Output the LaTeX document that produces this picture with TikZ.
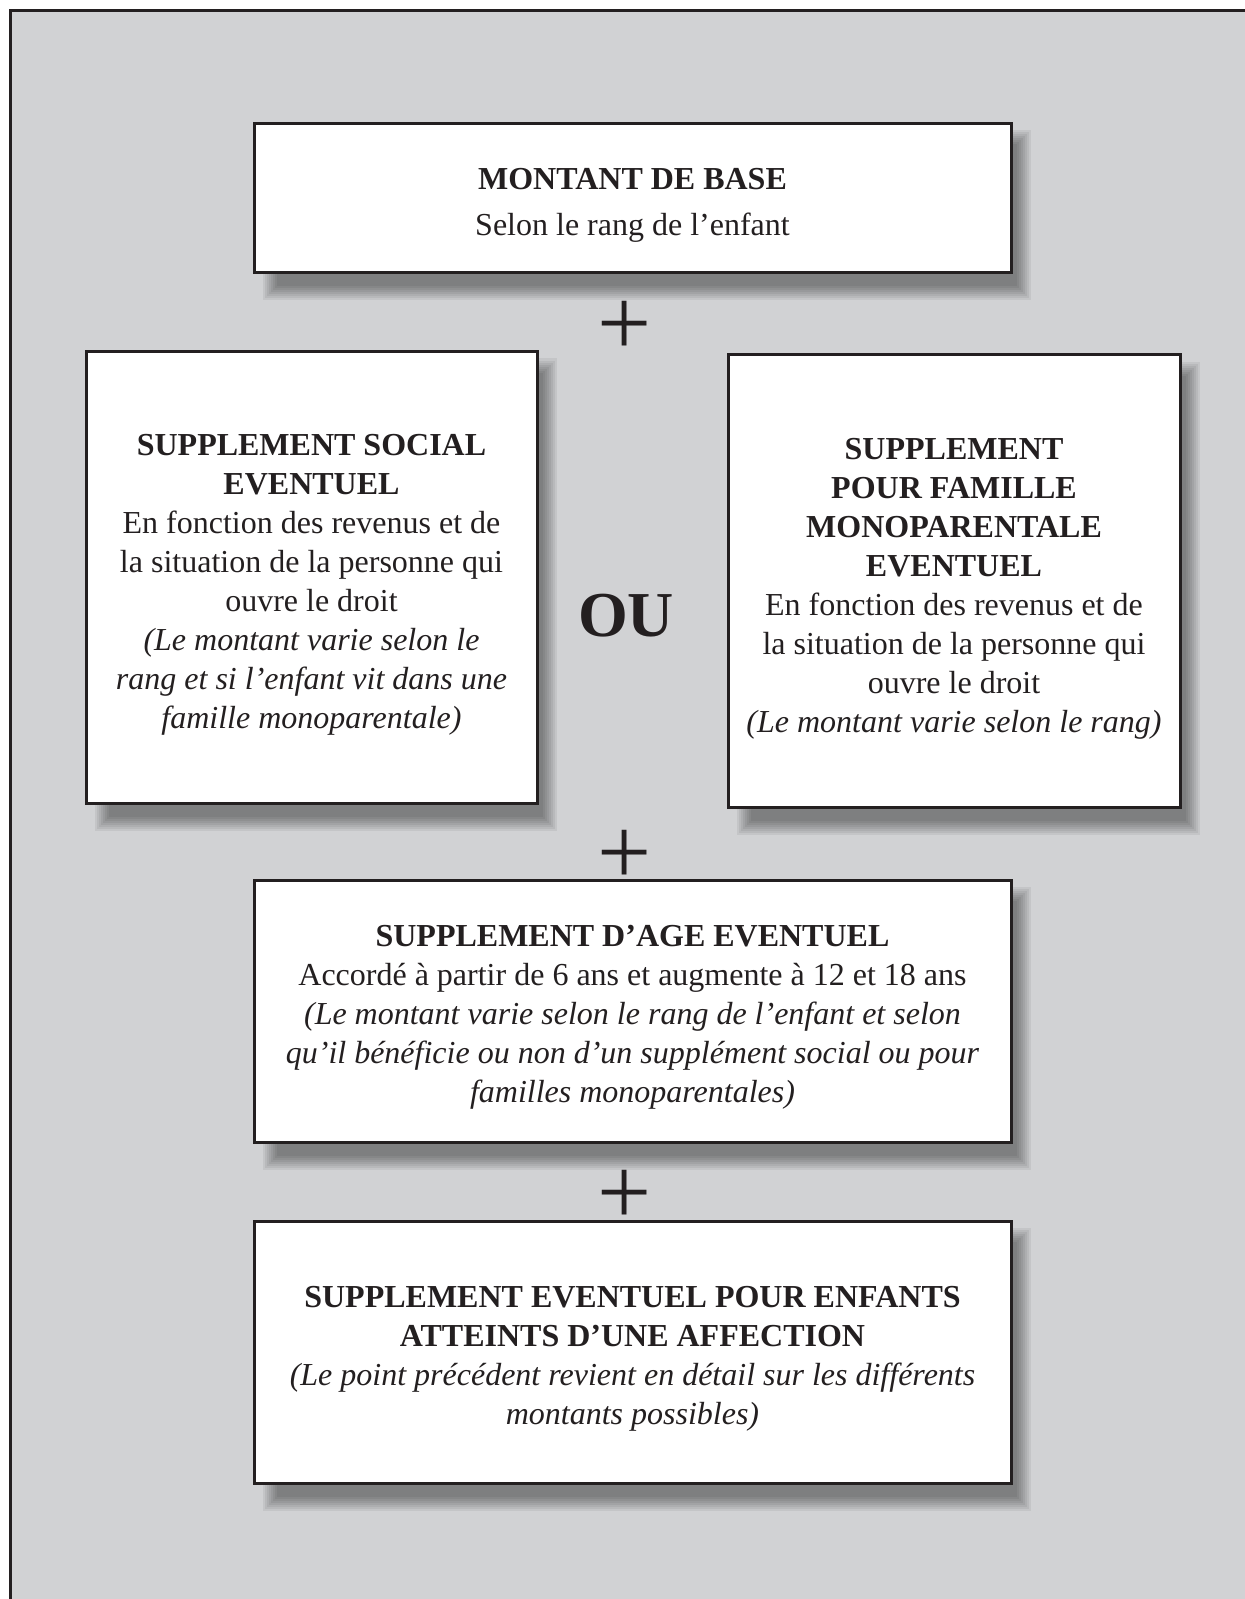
\documentclass[tikz,border=0pt]{standalone}
\usepackage{fontspec}
\setmainfont{Liberation Serif}
\usepackage{tikz}
\usetikzlibrary{calc}
\pgfdeclarelayer{background}
\pgfsetlayers{background,main}
\definecolor{panelgray}{HTML}{D1D2D4}
\definecolor{ink}{HTML}{231F20}
\newcommand{\softshadow}[1]{
  \foreach \k in {0,...,7} {
    \fill[black,opacity=0.06]
      ($(#1.south west)+(5pt+\k*1pt,-13pt+\k*1pt)$) rectangle
      ($(#1.north east)+(9pt-\k*1pt,-4pt-\k*1pt)$);
  }
}
\newcommand{\headstrut}{\rule{0pt}{17pt}}

\begin{document}
\begin{tikzpicture}[x=0.5pt,y=-0.5pt]
\tikzstyle{box}=[draw=ink,line width=1.5pt,fill=white,align=center,
  inner sep=0pt,text=ink,font={\fontsize{16pt}{19.5pt}\selectfont}]
\tikzstyle{sign}=[text=ink,inner sep=0pt,font={\fontsize{48pt}{48pt}\selectfont}]
\useasboundingbox (0,0) rectangle (1245,1599);
\begin{pgfonlayer}{background}
\fill[white] (0,0) rectangle (1245,1599);
\fill[panelgray] (10,11) rectangle (1245,1599);
\draw[ink,line width=1.5pt] (10,1599) -- (10,11) -- (1245,11);
\end{pgfonlayer}

\node[box,minimum width=378.5pt,minimum height=74.5pt] (base) at (632.5,198.5)
  {\headstrut\textbf{MONTANT DE BASE}\\[3.5pt] Selon le rang de l’enfant};
\node[sign] (plus1) at (625,328) {+};

\node[box,minimum width=225.5pt,minimum height=225.5pt] (social) at (311.5,577.5)
  {\rule{0pt}{18pt}\textbf{SUPPLEMENT SOCIAL}\\ \textbf{EVENTUEL}\\
   En fonction des revenus et de\\ la situation de la personne qui\\ ouvre le droit\\
   \textit{(Le montant varie selon le}\\ \textit{rang et si l’enfant vit dans une}\\
   \textit{famille monoparentale)}};
\node[text=ink,font={\fontsize{32pt}{32pt}\selectfont\bfseries}] (ou) at (626,616) {OU};
\node[box,minimum width=226pt,minimum height=226pt] (mono) at (954,581)
  {\rule{0pt}{18pt}\textbf{SUPPLEMENT}\\ \textbf{POUR FAMILLE}\\ \textbf{MONOPARENTALE}\\ \textbf{EVENTUEL}\\
   En fonction des revenus et de\\ la situation de la personne qui\\ ouvre le droit\\
   \textit{(Le montant varie selon le rang)}};
\node[sign] (plus2) at (625,857) {+};

\node[box,minimum width=378.5pt,minimum height=131pt] (age) at (632.5,1011)
  {\headstrut\textbf{SUPPLEMENT D’AGE EVENTUEL}\\
   Accordé à partir de 6 ans et augmente à 12 et 18 ans\\
   \textit{(Le montant varie selon le rang de l’enfant et selon}\\
   \textit{qu’il bénéficie ou non d’un supplément social ou pour}\\
   \textit{familles monoparentales)}};
\node[sign] (plus3) at (625,1197) {+};

\node[box,minimum width=378.5pt,minimum height=131pt] (affection) at (632.5,1352)
  {\headstrut\textbf{SUPPLEMENT EVENTUEL POUR ENFANTS}\\ \textbf{ATTEINTS D’UNE AFFECTION}\\
   \textit{(Le point précédent revient en détail sur les différents}\\
   \textit{montants possibles)}};

\begin{pgfonlayer}{background}
\softshadow{base}
\softshadow{social}
\softshadow{mono}
\softshadow{age}
\softshadow{affection}
\end{pgfonlayer}
\end{tikzpicture}
\end{document}
